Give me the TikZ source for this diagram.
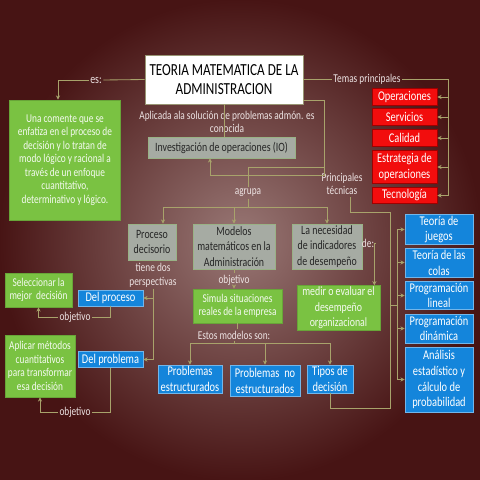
\documentclass[tikz,border=0pt]{standalone}
\usepackage{fontspec}
\setmainfont{Carlito}[FakeStretch=0.78]
\usetikzlibrary{calc}
\usetikzlibrary{arrows.meta}
\definecolor{MyBgIn}{rgb}{0.6,0.47,0.46}
\definecolor{MyBgOut}{rgb}{0.28,0.08,0.08}
\definecolor{MyLine}{rgb}{0.66,0.64,0.42}
\definecolor{MyGreen}{rgb}{0.48,0.76,0.26}
\definecolor{MyGrey}{rgb}{0.65,0.67,0.64}
\definecolor{MyBlue}{rgb}{0.08,0.52,0.86}
\definecolor{MyRed}{rgb}{0.95,0.05,0.05}
\definecolor{MyDarkRed}{rgb}{0.62,0.0,0.0}
\definecolor{MyLabel}{rgb}{0.93,0.89,0.89}
\tikzset{
  box/.style={draw, line width=0.5pt, align=center, inner sep=1pt},
  titlebox/.style={box, fill=white, draw=MyLine!60!gray, text=black, font=\fontsize{12}{13.5}\selectfont},
  greenbox/.style={box, fill=MyGreen, draw=MyGreen!85!black, text=white!92!MyGreen, font=\fontsize{8.5}{9.6}\selectfont},
  greybox/.style={box, fill=MyGrey, draw=MyGrey!70!MyGreen, text=black!85, font=\fontsize{9}{11}\selectfont},
  bluebox/.style={box, fill=MyBlue, draw=MyBlue!60!white, text=white, font=\fontsize{9.5}{11.3}\selectfont},
  redbox/.style={box, fill=MyRed, draw=MyDarkRed, text=white, font=\fontsize{9.5}{11.3}\selectfont},
  note/.style={text=MyLabel, align=center, inner sep=1pt, font=\fontsize{8.5}{9.8}\selectfont},
  conn/.style={draw=MyLine, line width=0.6pt},
  connarrow/.style={conn, -{Stealth[length=3pt,width=3pt]}},
}
\begin{document}
\begin{tikzpicture}[x=0.025cm, y=-0.025cm]
  \shade[inner color=MyBgIn, outer color=MyBgOut] (0,0) rectangle (480,480);

  \node[titlebox, minimum width=3.95cm, minimum height=1.225cm] (titulo) at (224,79.5) {TEORIA MATEMATICA DE LA\\ADMINISTRACION};
  \node[greenbox, minimum width=2.775cm, minimum height=3cm] (corriente) at (65,160) {Una comente que se\\enfatiza en el proceso de\\decisión y lo tratan de\\modo lógico y racional a\\través de un enfoque\\cuantitativo,\\determinativo y lógico.};
  \node[greybox, minimum width=3.675cm, minimum height=0.525cm] (io) at (221.5,147.5) {Investigación de operaciones (IO)};

  \node[redbox, minimum width=1.625cm, minimum height=0.425cm] (operaciones) at (404.5,97) {Operaciones};
  \node[redbox, minimum width=1.625cm, minimum height=0.425cm] (servicios) at (404.5,117) {Servicios};
  \node[redbox, minimum width=1.625cm, minimum height=0.425cm] (calidad) at (404.5,138) {Calidad};
  \node[redbox, minimum width=1.625cm, minimum height=0.825cm] (estrategia) at (404.5,167) {Estrategia de\\operaciones};
  \node[redbox, minimum width=1.625cm, minimum height=0.4cm] (tecnologia) at (404.5,195.5) {Tecnología};

  \node[greybox, minimum width=1.2cm, minimum height=0.9cm] (proceso) at (152,242) {Proceso\\decisorio};
  \node[greybox, minimum width=2.05cm, minimum height=1.125cm] (modelos) at (234,246.5) {Modelos\\matemáticos en la\\Administración};
  \node[greybox, minimum width=1.75cm, minimum height=1.125cm] (necesidad) at (327,246.5) {La necesidad\\de indicadores\\de desempeño};

  \node[greenbox, minimum width=2.225cm, minimum height=0.85cm] (simula) at (237.5,306) {Simula situaciones\\reales de la empresa};
  \node[greenbox, minimum width=2.075cm, minimum height=1.1cm, font=\fontsize{9}{11}\selectfont] (medir) at (338.5,308) {medir o evaluar el\\desempeño\\organizacional};
  \node[greenbox, minimum width=1.675cm, minimum height=0.85cm] (seleccionar) at (38.5,290) {Seleccionar la\\mejor \ decisión};
  \node[greenbox, minimum width=1.75cm, minimum height=1.55cm] (aplicar) at (40,366) {Aplicar métodos\\cuantitativos\\para transformar\\esa decisión};

  \node[bluebox, minimum width=1.625cm, minimum height=0.4cm] (delproceso) at (110.5,298) {Del proceso};
  \node[bluebox, minimum width=1.625cm, minimum height=0.4cm] (delproblema) at (110.5,359.5) {Del problema};
  \node[bluebox, minimum width=1.6cm, minimum height=0.7cm] (estructurados) at (190,379) {Problemas\\estructurados};
  \node[bluebox, minimum width=1.75cm, minimum height=0.775cm] (noestructurados) at (265,380.5) {Problemas \ no\\estructurados};
  \node[bluebox, minimum width=1.15cm, minimum height=0.7cm] (tipos) at (330,379) {Tipos de\\decisión};

  \node[bluebox, minimum width=1.7cm, minimum height=0.725cm] (juegos) at (439,229.5) {Teoría de\\juegos};
  \node[bluebox, minimum width=1.7cm, minimum height=0.725cm] (colas) at (439,262.5) {Teoría de las\\colas};
  \node[bluebox, minimum width=1.7cm, minimum height=0.675cm] (lineal) at (439,295.5) {Programación\\lineal};
  \node[bluebox, minimum width=1.7cm, minimum height=0.725cm] (dinamica) at (439,328.5) {Programación\\dinámica};
  \node[bluebox, minimum width=1.7cm, minimum height=1.625cm] (analisis) at (439,379.5) {Análisis\\estadístico y\\cálculo de\\probabilidad};

  \node[note, font=\fontsize{9}{10}\selectfont] (es) at (96,80) {es:};
  \node[note] (aplicada) at (227,122) {Aplicada ala solución de problemas admón. es\\conocida};
  \node[note] (temas) at (367,79.5) {Temas principales};
  \node[note] (principales) at (342,184) {Principales\\técnicas};
  \node[note] (agrupa) at (248,193) {agrupa};
  \node[note] (perspectivas) at (153,275) {tiene dos\\perspectivas};
  \node[note] (objmodelos) at (234,280) {objetivo};
  \node[note] (de) at (368,243) {de:};
  \node[note] (estos) at (234,335) {Estos modelos son:};
  \node[note] (objproceso) at (75,317) {objetivo};
  \node[note] (objproblema) at (75,412) {objetivo};

  \draw[conn] (titulo.west) -- (es.east);
  \draw[connarrow] (es.west) -| ($(corriente.north)+(-7,0)$);
  \draw[conn] (titulo.south) -- (titulo.south |- io.north);

  \coordinate (temasR) at (448,79.5);
  \draw[conn] (titulo.east) -- (temas.west);
  \draw[conn] (temas.east) -- (temasR) -- (temasR |- tecnologia.east);
  \foreach \n in {operaciones,servicios,calidad,estrategia,tecnologia}
    \draw[connarrow] (temasR |- \n.east) -- (\n.east);

  \coordinate (ramal) at (324,175);
  \draw[connarrow] ($(titulo.south east)+(0,-4)$) -| (ramal) -| ($(io.south)+(-11.5,0)$);
  \draw[conn] (ramal |- 0,167) -| (agrupa.north);

  \coordinate (brA) at (248,207);
  \coordinate (brA1) at (163,207);
  \draw[conn] (agrupa.south) -- (brA);
  \draw[conn] (brA1) -- (necesidad.north |- brA);
  \draw[connarrow] (brA1) -- (brA1 |- proceso.north);
  \draw[connarrow] (modelos.north |- brA) -- (modelos.north);
  \draw[connarrow] (necesidad.north |- brA) -- (necesidad.north);

  \coordinate (tecA) at (390,212);
  \coordinate (tecB) at (390,408);
  \coordinate (tecC) at (397,305);
  \draw[conn] ($(principales.south)+(8,0)$) |- (tecA) -- (tecB) -| (tipos.south);
  \draw[conn] (tecA |- tecC) -- (tecC);
  \draw[conn] (tecC |- juegos.west) -- (tecC |- analisis.west);
  \foreach \n in {juegos,colas,lineal,dinamica,analisis}
    \draw[connarrow] (tecC |- \n.west) -- (\n.west);

  \draw[conn] (perspectivas.south) -- (perspectivas.south |- delproblema.east);
  \draw[connarrow] (perspectivas.south |- delproceso.east) -- (delproceso.east);
  \draw[connarrow] (perspectivas.south |- delproblema.east) -- (delproblema.east);
  \draw[conn] (delproceso.south) |- (objproceso.east);
  \draw[connarrow] (objproceso.west) -| (seleccionar.south);
  \draw[conn] (delproblema.south) |- (objproblema.east);
  \draw[connarrow] (objproblema.west) -| (aplicar.south);

  \draw[conn] (modelos.south) -- (objmodelos.north);
  \draw[connarrow] (objmodelos.south) -- (objmodelos.south |- simula.north);
  \draw[connarrow] (de.east) -| ($(medir.north east)+(-6,0)$);

  \coordinate (brB) at (234,343);
  \draw[conn] (simula.south) -- (simula.south |- estos.north);
  \draw[conn] (estos.south) -- (brB);
  \draw[conn] (estructurados.north |- brB) -- (tipos.north |- brB);
  \foreach \n in {estructurados,noestructurados,tipos}
    \draw[connarrow] (\n.north |- brB) -- (\n.north);
\end{tikzpicture}
\end{document}
